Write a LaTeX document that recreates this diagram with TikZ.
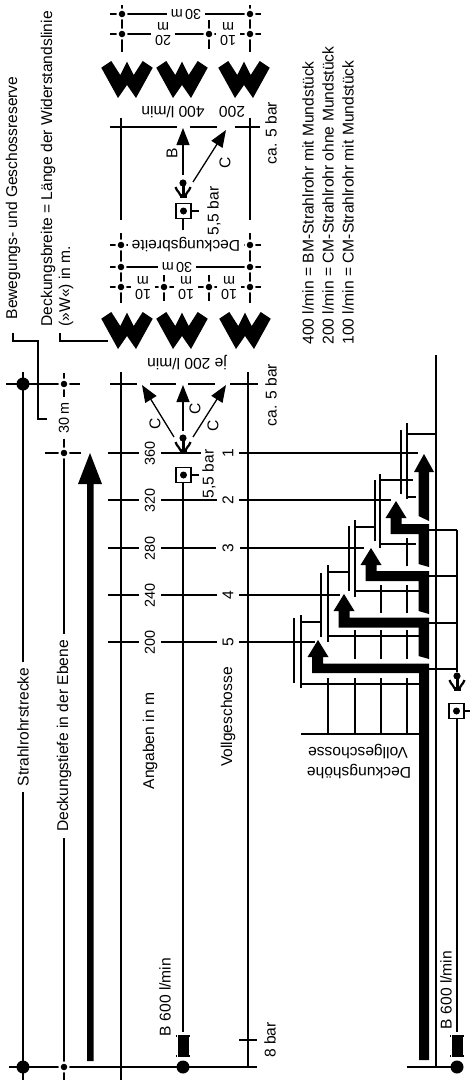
\documentclass[tikz,border=0pt]{standalone}
\usepackage{fontspec}
\setmainfont{Liberation Sans}
\usetikzlibrary{arrows.meta}

\tikzset{
  rtxt/.style={rotate=90,inner sep=0pt},
  rstart/.style={rotate=90,anchor=west,inner sep=0pt},
  utxt/.style={rotate=180,inner sep=0pt,align=center},
  rgap/.style={rotate=90,fill=white,inner sep=6pt},
  ugap/.style={rotate=180,fill=white,inner xsep=4pt,inner ysep=1pt,align=center},
  numtxt/.style={font=\fontsize{14.4}{13.5}\selectfont},
  dotnode/.style={circle,fill=black,draw=white,line width=2pt,minimum size=9pt,inner sep=0pt},
  bigdot/.style={circle,fill=black,minimum size=13pt,inner sep=0pt},
  pumpbox/.style={draw,fill=white,minimum size=15pt,inner sep=0pt,line width=1.4pt},
  pumpdot/.style={circle,fill=black,minimum size=7pt,inner sep=0pt},
  tip/.style={-{Triangle[length=17pt,width=13pt]}},
  nozzle/.pic={
    \draw[line width=3pt] (0,0) -- (0,14);
    \draw[line width=2.2pt] (-7.5,4) .. controls (-6,9) and (-3,9) .. (-2,13);
    \draw[line width=2.2pt] (7.5,4) .. controls (6,9) and (3,9) .. (2,13);
    \fill (-3.5,11) rectangle (3.5,15);
    \fill (0,0) circle (3.6pt);
  },
  coupling/.pic={
    \fill (-5.5,0) rectangle (5.5,22);
    \draw[line width=.8pt] (-6.5,0) -- (-6.5,2) (6.5,0) -- (6.5,2) (-6.5,22) -- (-6.5,20) (6.5,22) -- (6.5,20);
  },
  wshape/.pic={
    \fill (-25.7,6.7) -- (-15.7,0) -- (-6.7,14) -- (0,.7) -- (6.7,14) -- (15.7,0) -- (25.7,6.7)
      -- (9,37) -- (0,24) -- (-9,37) -- cycle;
  }
}

\begin{document}
\begin{tikzpicture}[x=1pt,y=-1pt,line width=1.3pt,font=\fontsize{15.6}{12}\selectfont]
\useasboundingbox (0,0) rectangle (470,1084);

% ---- long verticals of the section
\draw (23,372) -- (23,1080);
\draw (64,373) -- (64,1080);
\draw (121,372) -- (121,1080);
\draw (248,372) -- (248,1067);
\draw (183,483) -- (183,1032);
\fill (87,1061) -- (87,484) -- (78,484) -- (90,453) -- (102,484) -- (93.5,484) -- (93.5,1061) -- cycle;

% ---- cross lines
\draw (6,384) -- (80,384);
\draw (45,453) -- (81,453);
\draw (110,384) -- (137,384) (150,384) -- (176,384) (188,384) -- (215,384) (230,384) -- (258,384);
\draw (9,1067) -- (257,1067);
\draw (239,1040) -- (257,1040);
\draw (108,453) -- (418,453);
\draw (108,500) -- (391,500);
\draw (108,548) -- (364,548);
\draw (108,595) -- (340,595);
\draw (108,642) -- (315,642);

\node[bigdot] (startA) at (23,384) {};
\node[bigdot] (endA) at (23,1067) {};
\node[bigdot] (feedA) at (183,1067) {};
\node[dotnode] (tieA) at (64,384) {};
\node[dotnode] (tieB) at (64,453) {};
\node[dotnode] (tieC) at (64,1067) {};

% ---- front group, three branches
\coordinate (tipL) at (142,385);
\coordinate (tipM) at (183,385);
\coordinate (tipR) at (226,385);
\draw[tip] (174,437) -- (tipL);
\draw[tip] (183,431) -- (tipM);
\draw[tip] (193,437) -- (tipR);
\pic at (183,438) {nozzle};
\node[pumpbox] (pumpA) at (183.5,475) {};
\node[pumpdot] (pumpAdot) at (pumpA) {};
\draw (pumpA.east) -- (199,475);
\pic at (183,1035) {coupling};

% ---- lower detail: 30 m front
\draw (121,118) -- (121,220);
\draw (250,118) -- (250,220);
\draw (110,127) -- (177,127) (190,127) -- (217,127) (235,127) -- (260,127);
\coordinate (tipB) at (183,128);
\coordinate (tipC) at (226,130);
\draw[tip] (183,175) -- (tipB);
\draw[tip] (193,182) -- (tipC);
\draw (183,219) -- (183,230);
\pic at (183,183) {nozzle};
\node[pumpbox] (pumpB) at (183.5,211) {};
\node[pumpdot] (pumpBdot) at (pumpB) {};
\draw (pumpB.east) -- (199,211);

% ---- measure grids
\draw (122,5) -- (122,52);
\draw (250,5) -- (250,52);
\draw (209,20) -- (209,49);
\draw (110,14) -- (261,14);
\draw (110,34) -- (261,34);
\draw (121,233) -- (121,303);
\draw (250,233) -- (250,303);
\draw (164,275) -- (164,301);
\draw (209,275) -- (209,301);
\draw (110,245) -- (261,245);
\draw (110,267) -- (261,267);
\draw (110,287) -- (261,287);
\foreach \gx/\gy in {122/14,250/14,122/34,209/34,250/34,121/245,250/245,121/267,250/267,121/287,164/287,209/287,250/287}
  \node[dotnode] (grid\gx-\gy) at (\gx,\gy) {};
\node[ugap,numtxt] (topthirty) at (186,14) {30\,m};
\node[ugap,numtxt] (toptwenty) at (163,34) {20\\m};
\node[ugap,numtxt] (topten) at (228,34) {10\\m};
\node[ugap] (brwidth) at (186,245) {Deckungsbreite};
\node[ugap,numtxt] (midthirty) at (177,267) {30\,m};
\node[ugap,numtxt] (tenA) at (143,288) {10\\m};
\node[ugap,numtxt] (tenB) at (186,288) {10\\m};
\node[ugap,numtxt] (tenC) at (229,288) {10\\m};

% ---- W lines
\foreach \wx/\wy in {127/61,182/61,244/61,127/312,182/312,245/312}
  \pic at (\wx,\wy) {wshape};

% ---- leaders
\coordinate (resA) at (13,333);
\coordinate (resB) at (47,419);
\coordinate (lineA) at (60,333);
\coordinate (lineB) at (108,341);
\draw (resA) |- (38,341) |- (resB);
\draw (lineA) |- (lineB);

% ---- texts
\node[rstart] (reserve) at (13,320) {Bewegungs- und Geschossreserve};
\node[rstart] (width) at (48,327) {Deckungsbreite = Länge der Widerstandslinie};
\node[rstart] (widthb) at (66,327) {(»W«) in m.};
\node[rstart] (legA) at (308,345) {400 l/min = BM-Strahlrohr mit Mundstück};
\node[rstart] (legB) at (328,345) {200 l/min = CM-Strahlrohr ohne Mundstück};
\node[rstart] (legC) at (348,345) {100 l/min = CM-Strahlrohr mit Mundstück};
\node[utxt] (flowA) at (173,112) {400 l/min};
\node[utxt] (flowB) at (232,112) {200};
\node[utxt] (flowC) at (187,363) {je 200 l/min};
\node[rtxt] (labB) at (172,153) {B};
\node[rtxt] (labC) at (225,163) {C};
\node[rtxt] (labL) at (155,424) {C};
\node[rtxt] (labM) at (195,409) {C};
\node[rtxt] (labR) at (213,426) {C};
\node[rtxt] (barA) at (214,211) {5,5 bar};
\node[rgap,inner sep=1pt,inner xsep=0pt] (barB) at (209,474) {5,5 bar};
\node[rtxt] (caA) at (271,133) {ca. 5 bar};
\node[rtxt] (caB) at (271,395) {ca. 5 bar};
\node[rtxt] (eightbar) at (270,1040) {8 bar};
\node[rgap] (route) at (23,727) {Strahlrohrstrecke};
\node[rgap] (depth) at (64,736) {Deckungstiefe in der Ebene};
\node[rgap,numtxt] (thirty) at (64,418) {30\,m};
\node[rtxt] (angaben) at (150,741) {Angaben in m};
\node[rtxt] (floors) at (228,717) {Vollgeschosse};
\node[rtxt] (hoseA) at (165,997) {B 600 l/min};
\foreach \ly/\lm/\lf in {453/360/1,500/320/2,548/280/3,595/240/4,642/200/5} {
  \node[rgap,numtxt] (m\lm) at (150,\ly) {\lm};
  \node[rgap] (f\lf) at (228,\ly) {\lf};
}

% ---- stairs on the right
\draw (436,355) -- (436,1067);
\draw (407,1067) -- (457,1067);
\draw (457,530) -- (457,672);
\draw (457,719) -- (457,1032);
\foreach \ry in {530,576,623,669}
  \draw (429,\ry) -- (457,\ry);
\foreach \wa/\wb/\ta/\tb/\ua/\ub/\fy/\fx in {407/401/423/499/430/494/497/416,380/375/474/548/480/541/544/416,355/349/520/597/526/591/591/419,328/321/565/642/573/637/636/419,301/294/615/688/618/683/684/419} {
  \draw (\wa,\ta) -- (\wa,\tb);
  \draw (\wb,\ua) -- (\wb,\ub);
  \draw (\wa,\fy) -- (\fx,\fy);
}
\draw (407,434) -- (436,434);
\draw (380,480) -- (413,480);
\draw (355,527) -- (375,527);
\draw (328,572) -- (349,572);
\draw (301,622) -- (321,622);
\draw (301,734) -- (419,734);
\draw (407,538) -- (407,566);
\foreach \ox in {381,407}
  \draw (\ox,585) -- (\ox,613);
\foreach \ox in {355,381,407}
  \draw (\ox,630) -- (\ox,659);
\foreach \ox in {328,355,381,407}
  \draw (\ox,678) -- (\ox,734);

\fill (418.5,516) -- (418.5,472) -- (414,472) -- (424,454) -- (434,472) -- (429,472) -- (429,521) -- cycle;
\foreach \ax/\ay/\hy/\vy in {396/501/529/567,371/548/576/614,344/594/622.5/659}
  \fill (\ax-5.5,\hy+5) -- (\ax-5.5,\ay+17) -- (\ax-10.5,\ay+17) -- (\ax,\ay) -- (\ax+10.5,\ay+17) -- (\ax+5.5,\ay+17)
    -- (\ax+5.5,\hy-5) -- (429,\hy-5) -- (429,\vy) -- (418.5,\vy-3) -- (418.5,\hy+5) -- cycle;
\fill (312,673) -- (312,657) -- (307.5,657) -- (318,640) -- (328.5,657) -- (323,657) -- (323,663.5) -- (429,663.5)
  -- (429,1060) -- (419,1060) -- (419,673) -- cycle;

\pic at (457,676) {nozzle};
\node[pumpbox] (pumpC) at (456.5,711) {};
\node[pumpdot] (pumpCdot) at (pumpC) {};
\draw (pumpC.east) -- (470,711);
\pic at (457,1035) {coupling};
\node[bigdot] (feedB) at (457,1067) {};
\node[rtxt] (hoseB) at (446,990) {B 600 l/min};
\node[utxt] (deckA) at (358,752) {Vollgeschosse};
\node[utxt] (deckB) at (359,772) {Deckungshöhe};
\end{tikzpicture}
\end{document}
